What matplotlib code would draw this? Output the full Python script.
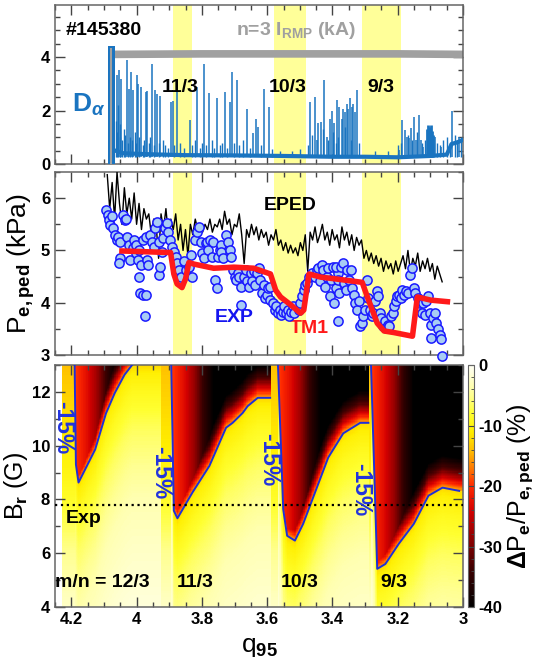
import numpy as np
import matplotlib
matplotlib.use('Agg')
import matplotlib.pyplot as plt
from matplotlib.colors import LinearSegmentedColormap
from matplotlib.ticker import MultipleLocator

plt.rcParams['font.family'] = 'Liberation Sans'
plt.rcParams['font.weight'] = 'bold'
plt.rcParams['mathtext.fontset'] = 'custom'
plt.rcParams['mathtext.rm'] = 'Liberation Sans:bold'
plt.rcParams['mathtext.bf'] = 'Liberation Sans:bold'
plt.rcParams['mathtext.it'] = 'Liberation Sans:italic:bold'
plt.rcParams['mathtext.default'] = 'bf'

# ---------------- data ----------------
bands_lo = [3.830, 3.480, 3.191]
bands_hi = [3.889, 3.580, 3.309]

# D-alpha trace: tall ELM spikes
spike_q = [4.059, 4.055, 4.047, 4.030, 4.024, 4.018, 4.012, 3.998, 3.996, 3.987,
           3.972, 3.967, 3.953, 3.943, 3.937, 3.928, 3.895, 3.890, 3.875, 3.838,
           3.814, 3.794, 3.777, 3.755, 3.730, 3.715, 3.709, 3.693, 3.661, 3.644,
           3.634, 3.628, 3.611, 3.596,
           3.470, 3.455, 3.448, 3.443, 3.435, 3.425, 3.418, 3.409, 3.402, 3.394,
           3.386, 3.379, 3.372, 3.367, 3.361, 3.356, 3.351, 3.347, 3.341, 3.337,
           3.331, 3.326,
           3.196, 3.186, 3.179, 3.173, 3.166, 3.159, 3.151, 3.144, 3.136, 3.130,
           3.122, 3.087, 3.067, 3.033, 3.012]
spike_h = [3.32, 3.50, 3.19, 3.88, 2.82, 3.44, 2.76, 3.34, 3.01, 2.88,
           2.70, 2.72, 3.75, 2.76, 2.63, 2.53, 2.32, 2.35, 2.82, 1.64,
           2.88, 3.75, 2.66, 2.45, 2.70, 2.32, 3.44, 3.16, 2.07, 1.17,
           1.70, 1.39, 2.82, 2.14,
           2.32, 2.51, 0.89, 1.52, 1.58, 3.13, 1.02, 1.70, 1.99, 1.52,
           2.39, 2.14, 1.70, 2.07, 1.95, 2.26, 2.07, 2.48, 2.14, 2.26,
           1.95, 2.78,
           0.52, 1.64, 1.27, 1.02, 0.96, 1.33, 1.76, 0.89, 1.83, 0.89,
           0.65, 1.02, 0.65, 2.0, 1.0]
# small spikes
small_q = [4.063, 4.061, 4.057, 4.052, 4.050, 4.044, 4.040, 4.036, 4.027, 4.021,
           4.015, 4.006, 4.001, 3.992, 3.982, 3.977, 3.962, 3.958, 3.948, 3.933,
           3.920, 3.912, 3.905, 3.884, 3.866, 3.855, 3.830, 3.822, 3.806, 3.800,
           3.786, 3.768, 3.762, 3.745, 3.737, 3.724, 3.702, 3.686, 3.675, 3.652,
           3.620, 3.585, 3.560, 3.525, 3.500, 3.476, 3.462, 3.430, 3.413, 3.398,
           3.390, 3.382, 3.363, 3.344, 3.320, 3.270, 3.230, 3.200, 3.190, 3.169,
           3.155, 3.140, 3.127, 3.118, 3.080, 3.072, 3.060, 3.048, 3.040, 3.025,
           3.018, 3.005]
small_h = [1.6, 1.2, 2.2, 1.0, 1.5, 0.9, 1.3, 1.1, 0.8, 1.0,
           0.9, 1.2, 0.8, 1.0, 0.7, 0.9, 0.8, 1.0, 0.7, 0.8,
           0.9, 0.7, 0.6, 0.7, 0.8, 0.6, 0.7, 0.9, 0.6, 0.8,
           0.7, 0.9, 0.6, 0.7, 0.8, 0.6, 0.8, 0.7, 0.9, 0.6,
           0.7, 0.55, 0.5, 0.5, 0.55, 0.7, 1.1, 1.3, 0.9, 1.2,
           0.8, 1.0, 1.4, 0.9, 0.8, 0.5, 0.5, 0.7, 0.8, 1.1,
           0.9, 1.2, 0.8, 0.9, 0.8, 0.7, 0.9, 1.0, 0.8, 1.1,
           0.9, 1.0]
block_q = [3.109, 3.106, 3.103, 3.100, 3.097, 3.094, 3.091]
block_h = [1.30, 1.45, 1.40, 1.35, 1.45, 1.25, 1.10]
base_q = [4.066, 4.04, 3.95, 3.85, 3.70, 3.55, 3.40, 3.30, 3.20, 3.10, 3.05, 3.035, 3.02, 3.0]
base_v = [0.50, 0.40, 0.36, 0.33, 0.32, 0.30, 0.27, 0.27, 0.25, 0.30, 0.35, 0.75, 0.80, 0.90]
irmp_q = [4.079, 3.8, 3.5, 3.2, 3.0]
irmp_v = [4.10, 4.12, 4.12, 4.12, 4.10]

# EPED prediction (evenly sampled in q from 4.090 to 3.064)
eped_p = [6.45, 5.8, 6.3, 5.6, 6.5, 5.9, 5.5, 6.2, 5.7, 6.0,
          5.6, 6.1, 5.5, 5.9, 5.4, 5.8, 5.6, 5.7, 5.3, 5.6,
          5.5, 4.85, 5.7, 5.4, 5.8, 5.3, 5.6, 5.4, 5.7, 5.2,
          5.5, 5.0, 5.4, 4.9, 5.5, 5.3, 5.6, 5.4, 5.5, 5.35,
          5.5, 5.4, 5.6, 5.35, 5.5, 5.45, 5.6, 5.4, 5.75, 5.5,
          5.6, 5.3, 5.5, 5.45, 5.7, 5.3, 4.75, 5.4, 5.25, 5.5,
          5.3, 5.45, 5.2, 5.4, 5.25, 5.35, 5.1, 5.3, 5.2, 5.4,
          5.1, 5.2, 5.0, 5.15, 4.95, 5.1, 4.95, 5.05, 4.9, 5.15,
          5.0, 5.3, 4.6, 5.35, 5.2, 5.45, 5.15, 5.3, 5.5, 5.2,
          5.35, 5.1, 5.4, 5.2, 5.3, 5.05, 5.45, 5.2, 5.35, 5.1,
          5.3, 5.0, 5.25, 5.1, 5.2, 4.85, 5.0, 4.8, 4.95, 4.75,
          4.9, 4.7, 4.85, 4.6, 4.8, 4.65, 4.75, 4.55, 4.8, 4.6,
          4.75, 4.9, 4.65, 5.0, 4.6, 4.85, 4.7, 4.95, 4.6, 4.8,
          4.65, 4.85, 4.6, 4.75, 4.45, 4.7, 4.55, 4.4]
eped_q = np.linspace(4.090, 3.064, len(eped_p))

# experimental pedestal pressure
exp_q = [4.094, 4.088, 4.086, 4.081, 4.076, 4.071, 4.066, 4.061, 4.056, 4.052,
         4.052, 4.055, 4.042, 4.037, 4.032, 4.029, 4.022, 4.019, 4.012, 4.007,
         4.002, 4.002, 3.997, 3.992, 3.987, 3.992, 3.989, 3.982, 3.972, 3.975,
         3.979, 3.972, 3.967, 3.965, 3.960, 3.953, 3.948, 3.943, 3.938, 3.933,
         3.933, 3.928, 3.923, 3.918, 3.913, 3.908, 3.903, 3.898, 3.893, 3.886,
         3.880, 3.876, 3.870, 3.864, 3.854, 3.849, 3.839, 3.829, 3.834, 3.821,
         3.814, 3.809, 3.804, 3.799, 3.794, 3.789, 3.784, 3.780, 3.775, 3.770,
         3.765, 3.760, 3.755, 3.750, 3.745, 3.740,
         3.740, 3.735, 3.725, 3.720, 3.715, 3.710, 3.705, 3.700, 3.695, 3.690,
         3.686, 3.681, 3.679, 3.671, 3.666, 3.661, 3.656, 3.651, 3.646, 3.641,
         3.636, 3.631, 3.626, 3.621, 3.616, 3.611, 3.607, 3.602, 3.597, 3.592,
         3.590, 3.582, 3.577, 3.572, 3.567, 3.562, 3.557, 3.552, 3.547, 3.542,
         3.537, 3.532, 3.527, 3.522, 3.517, 3.503, 3.498, 3.493, 3.488, 3.483,
         3.478, 3.473, 3.463, 3.453, 3.448, 3.443, 3.438, 3.433, 3.428, 3.423,
         3.418, 3.413, 3.409, 3.404, 3.399, 3.394, 3.389, 3.384,
         3.389, 3.384, 3.379, 3.382, 3.374, 3.369, 3.364, 3.359, 3.354, 3.349,
         3.344, 3.339, 3.334, 3.330, 3.325, 3.320, 3.315, 3.310, 3.305, 3.300,
         3.295, 3.290, 3.285, 3.280, 3.275, 3.270, 3.265, 3.260, 3.255, 3.250,
         3.245, 3.240, 3.235, 3.231, 3.226, 3.221, 3.216, 3.211, 3.206, 3.201,
         3.196, 3.191, 3.186, 3.181, 3.176, 3.168, 3.161, 3.156, 3.151, 3.146,
         3.137, 3.132, 3.127, 3.122, 3.117, 3.112, 3.107, 3.102, 3.097, 3.092,
         3.099, 3.087, 3.082, 3.077, 3.072, 3.067, 3.064]
exp_p = [5.78, 5.68, 5.58, 5.49, 5.66, 5.42, 5.30, 5.20, 5.26, 5.17,
         4.85, 4.76, 5.68, 5.58, 5.61, 5.26, 5.10, 4.82, 5.04, 5.20,
         5.10, 4.95, 4.82, 5.01, 4.72, 4.50, 4.19, 4.15, 4.15, 3.74,
         5.20, 5.26, 4.82, 4.72, 5.30, 5.17, 5.07, 5.42, 5.55, 5.17,
         4.53, 4.69, 4.98, 5.23, 5.42, 5.52, 5.36, 5.20, 5.07, 4.98,
         4.87, 4.76, 4.63, 4.50, 4.79, 4.63, 4.69, 4.50, 4.91, 5.20,
         5.36, 5.45, 5.17, 4.95, 4.85, 5.14, 5.17, 5.01, 5.20, 4.88,
         5.17, 4.44, 4.28, 4.88, 5.01, 5.10,
         4.98, 4.85, 5.30, 5.17, 5.01, 4.88, 4.63, 4.50, 4.44, 4.57,
         4.50, 4.31, 3.96, 4.50, 4.63, 4.41, 4.31, 4.57, 4.41, 4.60,
         4.34, 4.57, 4.66, 4.44, 4.19, 4.34, 4.09, 4.15, 4.28, 4.31,
         4.06, 4.00, 3.87, 3.93, 3.80, 3.87, 3.77, 3.83, 3.93, 3.80,
         3.87, 3.74, 3.83, 3.93, 3.80, 3.87, 4.00, 4.12, 4.25, 4.34,
         4.38, 4.50, 4.57, 4.50, 4.63, 4.66, 4.41, 4.72, 4.63, 4.31,
         4.50, 4.66, 4.12, 4.44, 4.69, 4.00, 4.28, 4.57,
         4.69, 4.44, 4.19, 3.65, 4.69, 4.76, 4.38, 4.25, 4.63, 4.44,
         4.63, 4.28, 4.15, 4.00, 3.87, 4.03, 3.55, 3.61, 3.74, 3.87,
         4.44, 4.09, 3.87, 3.74, 3.80, 4.03, 4.22, 4.12, 3.80, 3.71,
         3.55, 3.65, 3.52, 3.58, 3.55, 3.74, 3.80, 3.93, 4.03, 4.12,
         4.15, 4.09, 4.25, 4.15, 4.22, 4.19, 4.53, 4.66, 4.28, 4.19,
         4.09, 4.00, 3.80, 4.00, 3.77, 4.03, 4.12, 3.80, 3.58, 3.71,
         3.33, 3.80, 3.61, 3.49, 3.39, 3.30, 2.98]

# TM1 model
tm1_q = [4.045, 3.896, 3.886, 3.876, 3.861, 3.850, 3.840, 3.825, 3.764, 3.702,
         3.641, 3.590, 3.574, 3.559, 3.528, 3.498, 3.488, 3.472, 3.436, 3.396,
         3.309, 3.293, 3.263, 3.242, 3.212, 3.155, 3.140, 3.099, 3.048]
tm1_p = [4.99, 4.96, 4.55, 4.36, 4.29, 4.46, 4.77, 4.74, 4.66, 4.68,
         4.66, 4.55, 4.24, 4.11, 3.96, 3.80, 3.86, 4.55, 4.49, 4.46,
         4.39, 4.11, 3.61, 3.46, 3.43, 3.36, 4.11, 4.05, 4.02]

# TM1 scan of dP/P vs Br: one window per rational surface
seg_edges = [4.228, 3.925, 3.588, 3.287, 3.0]
contour_q = [[4.190, 4.186, 4.178, 4.127, 4.094, 4.067, 4.037, 4.014],
             [3.894, 3.886, 3.875, 3.829, 3.777, 3.726, 3.706, 3.675, 3.660, 3.629, 3.591],
             [3.567, 3.551, 3.539, 3.515, 3.490, 3.413, 3.367, 3.315, 3.290],
             [3.282, 3.263, 3.238, 3.197, 3.151, 3.106, 3.063, 3.012]]
contour_br = [[13.0, 9.30, 8.63, 9.86, 11.20, 11.96, 12.64, 13.0],
              [13.0, 7.58, 7.30, 8.26, 9.25, 10.67, 10.85, 11.22, 11.47, 11.78, 11.78],
              [13.0, 7.64, 6.65, 6.47, 7.09, 9.56, 10.46, 10.85, 10.85],
              [13.0, 5.42, 5.60, 6.35, 7.09, 8.14, 8.44, 8.32]]
# inside the -15% contour: value vs distance in q from the resonant edge
prof_d = [0.0, 0.04, 0.07, 0.10, 0.13]
prof_v = [-19, -23, -28, -35, -40]
# inside: value vs height above contour
ramp_h = [0.0, 0.3, 0.7, 1.2]
ramp_v = [-15, -22, -32, -40]
# outside: value vs depth below contour
fall_d = [0.0, 0.3, 1.0, 2.5, 5.0, 9.0]
fall_v = [-12.5, -10.8, -9.2, -6.5, -3.5, -1.5]
# strip before the resonant edge: value vs Br
strip_br = [4, 6, 8, 10, 12, 13]
strip_v = [-2.5, -5, -8.5, -11, -13, -14]

br_exp = 7.8

# ---------------- figure ----------------
blue_da = '#1a74c0'
fig = plt.figure(figsize=(5.4, 6.72), dpi=100)
L, W = 0.1019, 0.7556
ax1 = fig.add_axes([L, 0.756, W, 0.2366])
ax2 = fig.add_axes([L, 0.4717, W, 0.2723])
ax3 = fig.add_axes([L, 0.0967, W, 0.3601])
cax = fig.add_axes([0.866, 0.0967, 0.012, 0.3601])

for ax in (ax1, ax2, ax3):
    ax.set_xlim(4.25, 3.0)
    ax.xaxis.set_major_locator(MultipleLocator(0.2))
    ax.xaxis.set_minor_locator(MultipleLocator(0.05))
    ax.tick_params(which='both', direction='in', top=True, right=True,
                   labelsize=12, color='#444444', width=1)
    ax.tick_params(which='major', length=7)
    ax.tick_params(which='minor', length=3.5)
    for s in ax.spines.values():
        s.set_color('#666666')
        s.set_linewidth(1.1)

for ax in (ax1, ax2):
    ax.set_xticklabels([])
    for lo, hi in zip(bands_lo, bands_hi):
        ax.axvspan(lo, hi, color='#ffff99', lw=0, zorder=0)

# top panel
ax1.set_ylim(0, 5.95)
ax1.yaxis.set_major_locator(MultipleLocator(2))
ax1.yaxis.set_minor_locator(MultipleLocator(0.5))
ax1.plot(irmp_q, irmp_v, color='#a0a0a0', lw=5.5, solid_capstyle='butt', zorder=2)
ax1.fill_between([4.088, 4.066], 0, 4.43, color=blue_da, lw=0, zorder=3)
ax1.vlines(4.079, 0, 4.35, color='#a0a0a0', lw=1.5, zorder=3)
ax1.plot(base_q, base_v, color=blue_da, lw=3, zorder=3)
ax1.vlines(spike_q, 0.25, spike_h, color=blue_da, lw=1.1, zorder=3)
ax1.vlines(small_q, 0.25, small_h, color=blue_da, lw=1.0, zorder=3)
ax1.vlines(block_q, 0.25, block_h, color=blue_da, lw=2.0, zorder=3)
ax1.text(4.218, 5.0, '#145380', fontsize=14, va='center', ha='left')
ax1.text(3.697, 5.0, r'n=3 I$_{RMP}$ (kA)', fontsize=14, va='center', ha='left',
         color='#a0a0a0')
ax1.text(4.198, 2.2, r'D$_{\mathit{\alpha}}$', fontsize=19, va='center', ha='left',
         color=blue_da)
for lab, qq in zip(['11/3', '10/3', '9/3'], [3.866, 3.538, 3.253]):
    ax1.text(qq, 2.85, lab, fontsize=14, ha='center', va='center')

# middle panel
ax2.set_ylim(3, 6.5)
ax2.yaxis.set_major_locator(MultipleLocator(1))
ax2.yaxis.set_minor_locator(MultipleLocator(0.5))
ax2.plot(eped_q, eped_p, color='black', lw=1.0, zorder=3)
ax2.scatter(exp_q, exp_p, s=44, facecolor='#a8ccf4', edgecolor='#1a1aff',
            linewidths=1.1, zorder=4, clip_on=False)
ax2.plot(tm1_q, tm1_p, color='#ff1a1a', lw=4, zorder=5, solid_joinstyle='round')
ax2.set_ylabel(r'P$_{e,ped}$ (kPa)', fontsize=19, labelpad=3)
ax2.text(3.531, 5.86, 'EPED', fontsize=14, ha='center', va='center')
ax2.text(3.700, 3.71, 'EXP', fontsize=14, ha='center', va='center', color='#1414f0')
ax2.text(3.470, 3.51, 'TM1', fontsize=14, ha='center', va='center', color='#ff1a1a')

# bottom panel: field
cmap = LinearSegmentedColormap.from_list('dp', [
    (0.000, '#000000'), (0.150, '#3a0000'), (0.275, '#8b0000'), (0.400, '#d40000'),
    (0.500, '#ff2a00'), (0.575, '#ff7a00'), (0.650, '#ffc000'), (0.725, '#ffee00'),
    (0.800, '#ffff30'), (0.875, '#ffff90'), (0.950, '#ffffd0'), (1.000, '#fffff5')])

q_grid = np.linspace(3.0, seg_edges[0], 620)
br_grid = np.linspace(4, 13, 200)
Q, B = np.meshgrid(q_grid, br_grid)
Z = np.full(Q.shape, np.nan)
for k in range(4):
    cq = np.array(contour_q[k])
    cb = np.array(contour_br[k])
    qv = cq[0]
    in_seg = (Q <= seg_edges[k]) & (Q > seg_edges[k + 1] - 1e-9)
    brc = np.interp(Q, cq[::-1], cb[::-1])
    inside = (Q < qv) & (B > brc)
    val_in = np.maximum(np.interp(qv - Q, prof_d, prof_v),
                        np.interp(B - brc, ramp_h, ramp_v))
    val_out = np.interp(brc - B, fall_d, fall_v)
    val_strip = np.interp(B, strip_br, strip_v)
    z = np.where(inside, val_in, np.where(Q >= qv, val_strip, val_out))
    Z = np.where(in_seg, z, Z)

mesh = ax3.pcolormesh(q_grid, br_grid, Z, cmap=cmap, vmin=-40, vmax=0,
                      shading='auto', rasterized=True, zorder=1)
for cq, cb in zip(contour_q, contour_br):
    ax3.plot(cq, cb, color='#1f2fd8', lw=1.4, zorder=3)
ax3.axhline(br_exp, color='black', ls=':', lw=1.6, zorder=4)
ax3.set_ylim(4, 13)
ax3.yaxis.set_major_locator(MultipleLocator(2))
ax3.yaxis.set_minor_locator(MultipleLocator(1))
ax3.set_xticks([4.2, 4.0, 3.8, 3.6, 3.4, 3.2, 3.0])
ax3.set_xticklabels(['4.2', '4', '3.8', '3.6', '3.4', '3.2', '3'])
ax3.set_ylabel(r'B$_r$ (G)', fontsize=18, labelpad=1)
ax3.set_xlabel(r'q$_{95}$', fontsize=19, labelpad=6)

for qq, bb in zip([4.228, 3.927, 3.596, 3.315], [10.67, 9.0, 9.5, 8.38]):
    ax3.text(qq, bb, '-15%', rotation=270, fontsize=16.5, ha='center', va='center',
             color='#2233dd', zorder=5)
ax3.text(4.161, 7.31, 'Exp', fontsize=14, ha='center', va='center', zorder=5)
ax3.text(4.104, 4.93, 'm/n = 12/3', fontsize=14, ha='center', va='center', zorder=5)
for lab, qq in zip(['11/3', '10/3', '9/3'], [3.822, 3.500, 3.212]):
    ax3.text(qq, 4.93, lab, fontsize=14, ha='center', va='center', zorder=5)

cb = fig.colorbar(mesh, cax=cax)
cb.set_ticks([0, -10, -20, -30, -40])
cb.set_ticklabels(['0', '-10', '-20', '-30', '-40'])
cax.yaxis.set_minor_locator(MultipleLocator(2))
cax.tick_params(which='both', direction='in', labelsize=12, color='#444444', pad=3)
cax.tick_params(which='major', length=4)
cax.tick_params(which='minor', length=2)
cb.outline.set_edgecolor('#666666')
cb.set_label(r'$\Delta$P$_e$/P$_{e,ped}$ (%)', fontsize=18, labelpad=2)

fig.savefig('out.png', dpi=100)
